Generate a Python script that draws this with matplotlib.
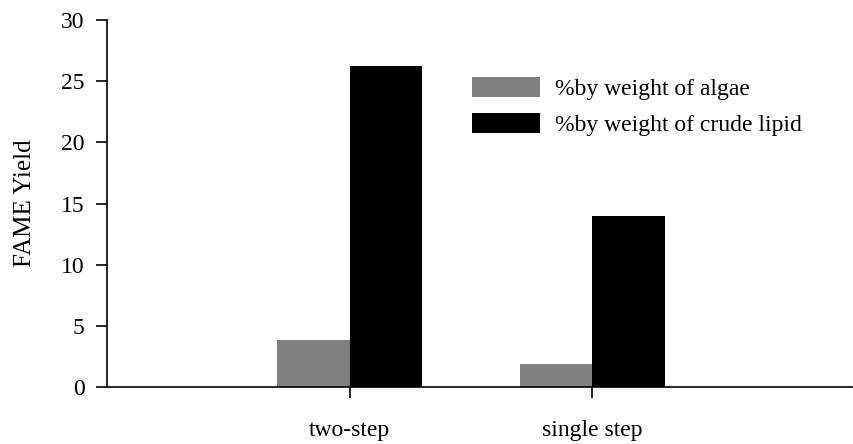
import matplotlib
matplotlib.use("Agg")
import matplotlib.pyplot as plt
import numpy as np

categories = ["two-step", "single step"]
algae = [3.85, 1.9]
crude_lipid = [26.2, 14.0]
series_labels = ["%by weight of algae", "%by weight of crude lipid"]

plt.rcParams['font.family'] = ['Liberation Serif', 'DejaVu Serif']

fig = plt.figure(figsize=(8.54, 4.44), dpi=100)
ax = fig.add_axes([107/854, 1-387/444, (852-107)/854, (387-20)/444])

x = np.arange(len(categories))
w = 0.3
ax.bar(x - w/2, algae, w, color="#808080", label=series_labels[0])
ax.bar(x + w/2, crude_lipid, w, color="#000000", label=series_labels[1])

ax.set_xlim(-1, 1 + 260/243)
ax.set_ylim(0, 30)
ax.set_yticks(np.arange(0, 31, 5))
ax.set_xticks(x)
ax.set_xticklabels(categories, fontsize=17)
ax.tick_params(axis='y', labelsize=17, length=8, width=1.2, direction='out', pad=8)
ax.tick_params(axis='x', length=8, width=1.2, direction='out', pad=16)
for s in ['top', 'right']:
    ax.spines[s].set_visible(False)
ax.spines['left'].set_linewidth(1.2)
ax.spines['bottom'].set_linewidth(1.2)
ax.set_ylabel("FAME Yield", fontsize=18, labelpad=18)

ax.legend(loc='upper left', bbox_to_anchor=((472-107)/745, (387-77)/367), frameon=False,
          fontsize=17, handlelength=2.9, handleheight=0.93, handletextpad=0.6, labelspacing=0.55,
          borderaxespad=0, borderpad=0)

fig.savefig("out.png", dpi=100)
